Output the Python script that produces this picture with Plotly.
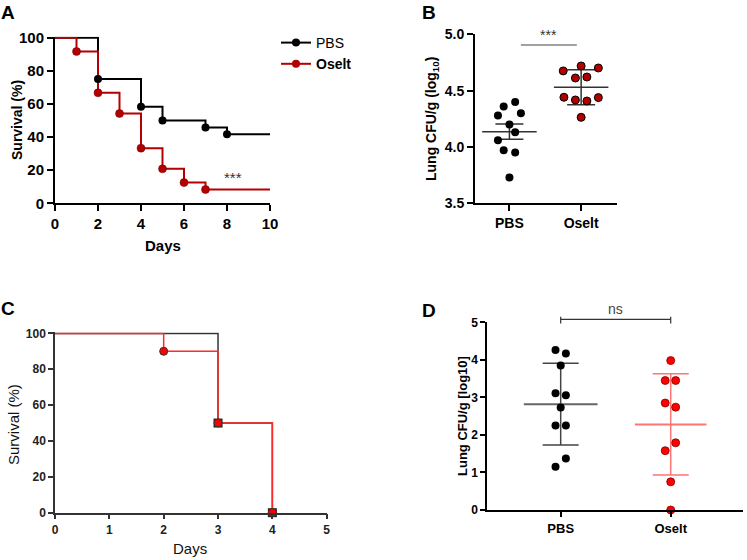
import plotly.graph_objects as go

W, H = 747, 560
FONT = "Liberation Sans, Arial, sans-serif"

# ---------------- data ----------------
# Panel A: survival (%) vs days
a_days_pbs = [0, 2, 4, 5, 7, 8, 10]
a_surv_pbs = [100, 75, 58.3, 50, 45.8, 41.7, 41.7]
a_days_osl = [0, 1, 2, 3, 4, 5, 6, 7, 10]
a_surv_osl = [100, 91.7, 66.7, 54.2, 33.3, 20.8, 12.5, 8.3, 8.3]

groups = ["PBS", "Oselt"]

# Panel B: lung CFU/g (log10)
b_pbs = [4.36, 4.40, 4.28, 4.30, 4.20, 4.13, 4.06, 3.97, 3.95, 3.73]
b_pbs_jit = [-0.08, 0.08, -0.16, 0.16, 0.0, 0.08, -0.16, -0.08, 0.08, 0.0]
b_osl = [4.675, 4.719, 4.701, 4.612, 4.621, 4.441, 4.417, 4.408, 4.438, 4.263]
b_osl_jit = [-0.25, 0.0, 0.24, -0.08, 0.08, -0.24, -0.08, 0.08, 0.24, 0.0]
b_mean = [4.136, 4.53]
b_err = [0.067, 0.155]

# Panel C: survival (%) vs days
c_days_pbs = [0, 3, 4]
c_surv_pbs = [100, 50, 0]
c_days_osl = [0, 2, 3, 4]
c_surv_osl = [100, 90, 50, 0]

# Panel D: lung CFU/g [log10]
d_pbs = [4.26, 4.17, 3.85, 3.11, 3.06, 2.73, 2.25, 2.25, 1.37, 1.15]
d_pbs_jit = [-0.047, 0.047, 0.0, -0.047, 0.047, 0.0, -0.047, 0.047, 0.047, -0.047]
d_osl = [3.98, 3.45, 3.45, 2.85, 2.74, 1.58, 1.79, 0.75, 0.0]
d_osl_jit = [0.0, -0.05, 0.045, -0.05, 0.045, -0.05, 0.045, 0.0, 0.0]
d_mean = [2.82, 2.28]
d_err = [1.09, 1.35]

# ---------------- layout geometry ----------------
def px(x):
    return x / W

def py(y):
    return 1 - y / H

A_dom_x, A_dom_y = [px(55), px(270)], [py(203.3), py(36.7)]
B_dom_x, B_dom_y = [px(475), px(617)], [py(203.3), py(34.3)]
C_dom_x, C_dom_y = [px(55), px(326.7)], [py(512.7), py(332.3)]
D_dom_x, D_dom_y = [px(487.3), px(743)], [py(510), py(322.3)]
A_rng_y = [0, 100.6]
B_rng_x = [-0.48, 1.5]
D_rng_x = [-0.667, 1.657]
D_rng_y = [0, 5]


def yfrac(v, dom, rng):
    return dom[0] + (v - rng[0]) / (rng[1] - rng[0]) * (dom[1] - dom[0])


fig = go.Figure()

A_RED = "#b30000"
# ---- Panel A ----
fig.add_trace(go.Scatter(x=a_days_pbs, y=a_surv_pbs, mode="lines", line_shape="hv",
                         line=dict(color="black", width=2), xaxis="x", yaxis="y", showlegend=False))
fig.add_trace(go.Scatter(x=a_days_osl, y=a_surv_osl, mode="lines", line_shape="hv",
                         line=dict(color=A_RED, width=2), xaxis="x", yaxis="y", showlegend=False))
fig.add_trace(go.Scatter(x=a_days_pbs[1:-1], y=a_surv_pbs[1:-1], mode="markers",
                         marker=dict(color="black", size=8), xaxis="x", yaxis="y",
                         showlegend=False, cliponaxis=False))
fig.add_trace(go.Scatter(x=a_days_osl[1:-1], y=a_surv_osl[1:-1], mode="markers",
                         marker=dict(color=A_RED, size=8, line=dict(color="#700000", width=0.5)),
                         xaxis="x", yaxis="y", showlegend=False, cliponaxis=False))
# legend entries
fig.add_trace(go.Scatter(x=[None], y=[None], mode="lines+markers", name="PBS",
                         line=dict(color="black", width=2), marker=dict(color="black", size=8),
                         xaxis="x", yaxis="y"))
fig.add_trace(go.Scatter(x=[None], y=[None], mode="lines+markers", name="<b>Oselt</b>",
                         line=dict(color=A_RED, width=2), marker=dict(color=A_RED, size=8),
                         xaxis="x", yaxis="y"))

# ---- Panel B ----
fig.add_trace(go.Scatter(x=[0, 1], y=b_mean, mode="markers", marker=dict(opacity=0, size=1),
                         error_x=dict(type="constant", value=0.38, width=0, thickness=1.5, color="#333"),
                         error_y=dict(type="data", array=b_err, width=14, thickness=1.5, color="#333"),
                         xaxis="x2", yaxis="y2", showlegend=False))
fig.add_trace(go.Scatter(x=[0 + j for j in b_pbs_jit], y=b_pbs, mode="markers",
                         marker=dict(color="black", size=8), xaxis="x2", yaxis="y2",
                         showlegend=False, cliponaxis=False))
fig.add_trace(go.Scatter(x=[1 + j for j in b_osl_jit], y=b_osl, mode="markers",
                         marker=dict(color="#b00000", size=8, line=dict(color="black", width=1)),
                         xaxis="x2", yaxis="y2", showlegend=False, cliponaxis=False))

# ---- Panel C ----
C_BLACK = "#333333"
C_RED = "#ff2a2a"
fig.add_trace(go.Scatter(x=c_days_pbs, y=c_surv_pbs, mode="lines", line_shape="hv",
                         line=dict(color=C_BLACK, width=1.5), xaxis="x3", yaxis="y3", showlegend=False))
fig.add_trace(go.Scatter(x=c_days_osl, y=c_surv_osl, mode="lines", line_shape="hv",
                         line=dict(color=C_RED, width=1.5), xaxis="x3", yaxis="y3", showlegend=False))
fig.add_trace(go.Scatter(x=c_days_pbs[1:], y=c_surv_pbs[1:], mode="markers",
                         marker=dict(color="#222", size=9, symbol="square"),
                         xaxis="x3", yaxis="y3", showlegend=False, cliponaxis=False))
fig.add_trace(go.Scatter(x=c_days_osl[1:], y=c_surv_osl[1:], mode="markers",
                         marker=dict(color="#ff0000", size=8, line=dict(color="#333", width=1)),
                         xaxis="x3", yaxis="y3", showlegend=False, cliponaxis=False))

# ---- Panel D ----
fig.add_trace(go.Scatter(x=[0], y=[d_mean[0]], mode="markers", marker=dict(opacity=0, size=1),
                         error_x=dict(type="constant", value=0.335, width=0, thickness=2, color="#666"),
                         error_y=dict(type="data", array=[d_err[0]], width=18, thickness=1.5, color="#444"),
                         xaxis="x4", yaxis="y4", showlegend=False))
fig.add_trace(go.Scatter(x=[1], y=[d_mean[1]], mode="markers", marker=dict(opacity=0, size=1),
                         error_x=dict(type="constant", value=0.325, width=0, thickness=2, color="#ff7474"),
                         error_y=dict(type="data", array=[d_err[1]], width=18, thickness=1.5, color="#ff7474"),
                         xaxis="x4", yaxis="y4", showlegend=False))
fig.add_trace(go.Scatter(x=[0 + j for j in d_pbs_jit], y=d_pbs, mode="markers",
                         marker=dict(color="black", size=8), xaxis="x4", yaxis="y4",
                         showlegend=False, cliponaxis=False))
fig.add_trace(go.Scatter(x=[1 + j for j in d_osl_jit], y=d_osl, mode="markers",
                         marker=dict(color="#ff0000", size=8, line=dict(color="#800000", width=0.8)),
                         xaxis="x4", yaxis="y4", showlegend=False, cliponaxis=False))

# ---------------- axes ----------------
def axis(dom, rng, anchor, tickvals, ticktext=None, fsize=14, bold=True, color="black",
         lw=2, tlen=6, tcolor="black"):
    d = dict(domain=dom, range=rng, anchor=anchor, showgrid=False, zeroline=False,
             automargin=False,
             showline=True, linecolor=color, linewidth=lw, ticks="outside", ticklen=tlen,
             tickwidth=lw, tickcolor=color, tickvals=tickvals,
             tickfont=dict(family=FONT, size=fsize, color=tcolor,
                           weight="bold" if bold else "normal"))
    if ticktext is not None:
        d["ticktext"] = ticktext
    return d

fig.update_layout(
    template="none",
    xaxis=axis(A_dom_x, [0, 10], "y", [0, 2, 4, 6, 8, 10], fsize=15),
    yaxis=axis(A_dom_y, A_rng_y, "x", [0, 20, 40, 60, 80, 100], fsize=15),
    xaxis2=axis(B_dom_x, B_rng_x, "y2", [0, 1], groups, fsize=14, lw=2),
    yaxis2=axis(B_dom_y, [3.5, 5.0], "x2", [3.5, 4.0, 4.5, 5.0],
                ["3.5", "4.0", "4.5", "5.0"], fsize=14, lw=2),
    xaxis3=axis(C_dom_x, [0, 5], "y3", [0, 1, 2, 3, 4, 5], fsize=12, color="#333",
                lw=1.5, tlen=5, tcolor="#222"),
    yaxis3=axis(C_dom_y, [0, 100.6], "x3", [0, 20, 40, 60, 80, 100], fsize=12, color="#333",
                lw=1.5, tlen=5, tcolor="#222"),
    xaxis4=axis(D_dom_x, D_rng_x, "y4", [0, 1], groups, fsize=13, lw=2, tlen=5),
    yaxis4=axis(D_dom_y, D_rng_y, "x4", [0, 1, 2, 3, 4, 5], fsize=12, lw=2, tlen=5),
)

# ---------------- text ----------------
ann = []
def txt(x, y, s, size, bold=True, angle=0, color="black", xref="paper", yref="paper",
        xanchor="center", yanchor="middle"):
    ann.append(dict(x=x, y=y, xref=xref, yref=yref, text=s, showarrow=False, textangle=angle,
                    xanchor=xanchor, yanchor=yanchor,
                    font=dict(family=FONT, size=size, color=color,
                              weight="bold" if bold else "normal")))

# panel letters
txt(px(8), py(12), "A", 19)
txt(px(429), py(12), "B", 19)
txt(px(8), py(308), "C", 19)
txt(px(429), py(310), "D", 19)

# axis titles
txt(px(17), py(120), "Survival (%)", 14, angle=-90)
txt(px(163), py(245), "Days", 15)
txt(px(432), py(119), "Lung CFU/g (log<sub>10</sub>)", 14, angle=-90)
txt(px(13), py(425), "Survival (%)", 15, bold=False, angle=-90, color="#111")
txt(px(190), py(548), "Days", 15, bold=False, color="#111")
txt(px(462), py(416), "Lung CFU/g [log10]", 13, angle=-90)

# significance
txt(8.3, 15.8, "***", 15, bold=False, color="#333", xref="x", yref="y")
txt(0.55, 4.905, "***", 14, bold=False, color="#333", xref="x2", yref="y2", yanchor="bottom")
ns_y = yfrac(5.08, D_dom_y, D_rng_y)
txt(0.5, ns_y, "ns", 14, bold=False, color="#444", xref="x4", yanchor="bottom")

shapes = [
    dict(type="line", xref="x2", yref="y2", x0=0.16, x1=0.94, y0=4.905, y1=4.905,
         line=dict(color="#444", width=1.2)),
    dict(type="line", xref="x4", yref="paper", x0=0, x1=1, y0=ns_y, y1=ns_y,
         line=dict(color="#333", width=1.2)),
    dict(type="line", xref="x4", yref="paper", x0=0, x1=0,
         y0=yfrac(4.97, D_dom_y, D_rng_y), y1=yfrac(5.15, D_dom_y, D_rng_y),
         line=dict(color="#333", width=1.2)),
    dict(type="line", xref="x4", yref="paper", x0=1, x1=1,
         y0=yfrac(4.97, D_dom_y, D_rng_y), y1=yfrac(5.15, D_dom_y, D_rng_y),
         line=dict(color="#333", width=1.2)),
]

fig.update_layout(
    width=W, height=H, margin=dict(l=0, r=0, t=0, b=0, pad=0),
    paper_bgcolor="white", plot_bgcolor="white",
    annotations=ann, shapes=shapes,
    showlegend=True,
    legend=dict(x=px(276), y=py(27), xanchor="left", yanchor="top",
                font=dict(family=FONT, size=14, color="black"),
                bgcolor="rgba(0,0,0,0)", itemwidth=30, tracegroupgap=2),
)

fig.write_html("out.html", config={"displayModeBar": False},
               post_script="document.body.style.margin='0';document.body.style.padding='0';")
